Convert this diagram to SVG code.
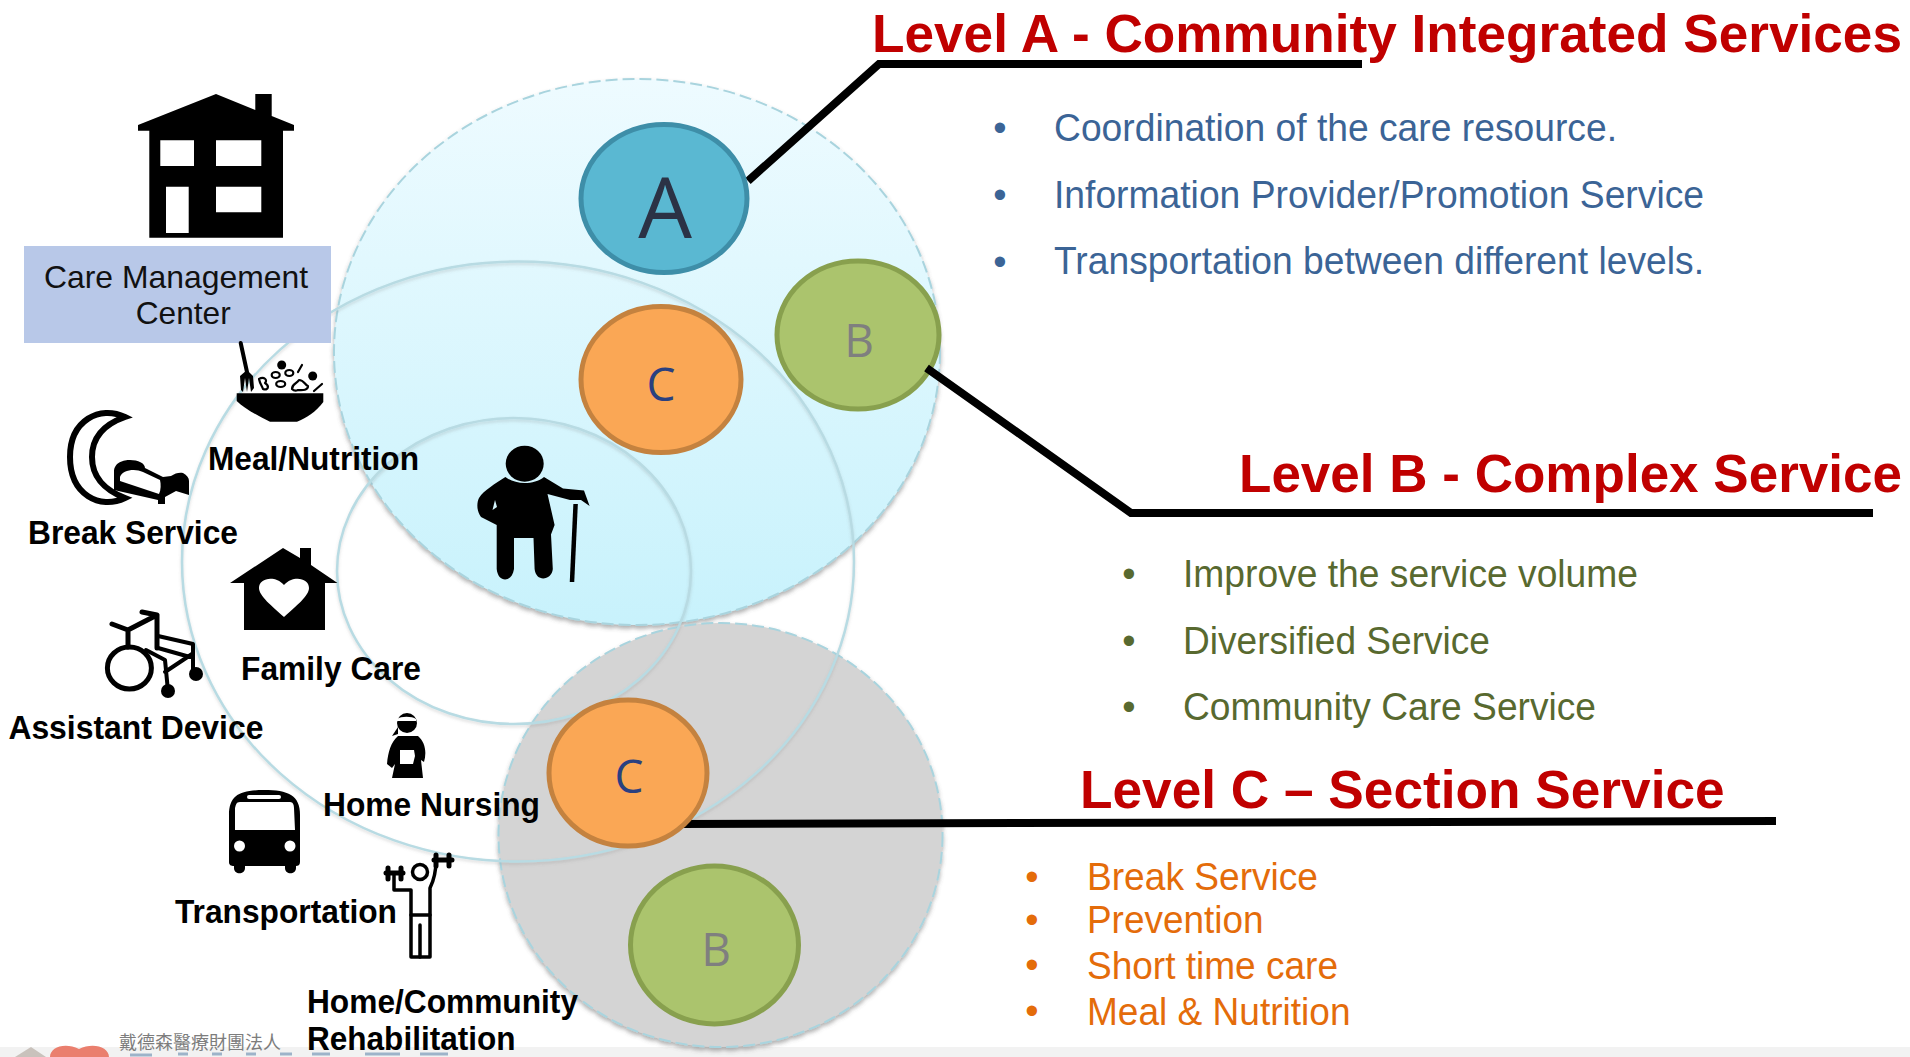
<svg xmlns="http://www.w3.org/2000/svg" width="1910" height="1057" viewBox="0 0 1910 1057">
<style>
text{font-family:"Liberation Sans",Arial,sans-serif}
.h{font-size:54px;font-weight:bold;fill:#c00000}
.la{font-size:38px;fill:#3b6496}
.lb{font-size:38px;fill:#58692f}
.lc{font-size:38px;fill:#e46c0a}
.lbl{font-size:33px;font-weight:bold;fill:#000}
.box{font-size:32px;fill:#111}
.ltr{font-family:"Open Sans","Noto Sans",sans-serif;text-anchor:middle}
.ring{fill:none;stroke:#b8dbe3;stroke-width:2.500}
.dash{stroke:#a9d4de;stroke-width:2;stroke-dasharray:12 5}
.ca{fill:#5ab8d2;stroke:#3e8ea8;stroke-width:5}
.cb{fill:#abc46d;stroke:#88a04e;stroke-width:5}
.cc{fill:#faa755;stroke:#c4823f;stroke-width:5}
.ink{stroke:#000;fill:none;stroke-linecap:round;stroke-linejoin:round}
.conn{fill:none;stroke:#000;stroke-width:8;stroke-linejoin:miter}
</style>
<defs>
<linearGradient id="skyGrad" x1="0" y1="0" x2="0" y2="1"><stop offset="0" stop-color="#eefbff"/><stop offset="1" stop-color="#c8f2fc"/></linearGradient>
<filter id="soft" x="-5%" y="-5%" width="110%" height="112%"><feDropShadow dx="0" dy="3" stdDeviation="2" flood-color="#555" flood-opacity=".45"/></filter>
<filter id="softer" x="-5%" y="-5%" width="110%" height="112%"><feDropShadow dx="0" dy="2" stdDeviation="1.500" flood-color="#777" flood-opacity=".25"/></filter>
</defs>
<rect width="1910" height="1057" fill="#fff"/>
<g id="footer">
<rect y="1047" width="1910" height="10" fill="#f2f2f2"/>
<path d="M15,1057 L31,1047 L46,1057Z" fill="#c9c2bc"/>
<path d="M50,1057 C50,1047 65,1042 79,1049 C93,1042 109,1047 109,1057Z" fill="#ea7f6e"/>
<text x="119" y="1049" font-size="18" fill="#7d7d7d" textLength="162" lengthAdjust="spacingAndGlyphs" style="font-family:'Noto Sans CJK TC','Liberation Sans',sans-serif">戴德森醫療財團法人</text>
<path d="M130,1055H152M178,1054H188M212,1054H222M246,1054H256M280,1054H292M312,1054H330M365,1054H400M420,1054H448" stroke="#9db3c9" stroke-width="3" fill="none"/>
</g>
<g id="circle-level-a"><ellipse cx="637" cy="352" rx="303" ry="273" fill="url(#skyGrad)" class="dash" filter="url(#soft)"/></g>
<g id="circle-level-c"><ellipse cx="720.500" cy="835" rx="222" ry="212" fill="#d4d4d4" class="dash" filter="url(#soft)"/></g>
<g id="ring-outer"><ellipse cx="518" cy="561.500" rx="336" ry="300" class="ring" filter="url(#softer)"/></g>
<g id="ring-inner"><ellipse cx="514" cy="571" rx="177" ry="153" class="ring" filter="url(#softer)"/></g>
<g id="node-b-upper"><ellipse cx="858" cy="335" rx="81" ry="74" class="cb"/><text x="859" y="357" font-size="46" fill="#7f7f7f" class="ltr">B</text></g>
<g id="connectors">
<path class="conn" d="M748,181 L879,64 L1362,64"/>
<path class="conn" d="M926.500,368 L1131,513 L1873,513"/>
<path class="conn" d="M680,824 L1776,821"/>
</g>
<g id="node-a"><ellipse cx="664" cy="198.500" rx="83" ry="74" class="ca"/><text x="665" y="238" font-size="85" fill="#2b3245" class="ltr">A</text></g>
<g id="node-c-upper"><ellipse cx="661" cy="379.500" rx="80" ry="73" class="cc"/><text x="661" y="401" font-size="46" fill="#2a4080" class="ltr">C</text></g>
<g id="node-c-lower"><ellipse cx="628" cy="773" rx="79" ry="73" class="cc"/><text x="629" y="793" font-size="46" fill="#2a4080" class="ltr">C</text></g>
<g id="node-b-lower"><ellipse cx="714.500" cy="945" rx="84" ry="79" class="cb"/><text x="716" y="966" font-size="46" fill="#7f7f7f" class="ltr">B</text></g>
<g id="elder">
<ellipse cx="524.700" cy="463.700" rx="19" ry="18"/>
<path d="M505.400,477 C515,485 534,485 544,477 L563,488.600 L584,490.500 L589.600,506 L581,500 L570,500 L547.500,494 L554.600,525 L551,534.600 L552.800,569 C552,580 536,583 534.600,569 L533.500,538 L514,538 L514,569 C512,583 498,583 496.700,569 L496.700,525 L481,517 C476,510 477,502 479,498 C484,490 495,484 505.400,477Z"/>
<path d="M495,500 L492.500,510 L497,507Z" fill="#d4f5fd"/>
<path d="M575.600,504 L572,582" stroke="#000" stroke-width="4.500"/>
</g>
<g id="care-center">
<path d="M138,125 L216,94 L255.300,110 L255.300,94 L271.700,94 L271.700,116 L294,125 L294,130.700 L283,130.700 L283,237.700 L149.300,237.700 L149.300,130.700 L138,130.700Z"/>
<path d="M160.300,140.300H194V166H160.300ZM216,140.300H261.300V166H216ZM166,186.700H188.700V233H166ZM216,186.700H261.300V212.300H216Z" fill="#fff"/>
<rect x="24" y="246" width="307" height="97" fill="#b8c8e8"/>
<text class="box" x="44" y="287.500" textLength="264" lengthAdjust="spacingAndGlyphs">Care Management</text>
<text class="box" x="135.700" y="324" textLength="95" lengthAdjust="spacingAndGlyphs">Center</text>
</g>
<g id="meal">
<path d="M240.700,343 L247,372" class="ink" stroke-width="4"/>
<path d="M240,376 L241,390 L243,392 L245,378 L247,392 L249,378 L251,392 L254,388 L253,376 L247,370Z"/>
<path d="M236.700,393.300 H323.300 V402 C316,412 306,418 297,421.700 H270 C256,415 244,408 236.700,401Z"/>
<circle cx="281.700" cy="365" r="4.500"/><circle cx="312.700" cy="376" r="4.500"/>
<g class="ink" stroke-width="2.200">
<ellipse cx="275.700" cy="375" rx="4" ry="3"/><ellipse cx="289.300" cy="373" rx="4" ry="3"/><ellipse cx="280.700" cy="384" rx="4.500" ry="3"/>
<path d="M259,379 C264,376 268,380 265,383 C270,386 268,391 263,389 C262,386 260,384 259,379Z"/>
<path d="M292,389 C292,383 297,384 299,380 C304,380 305,385 308,386 C308,391 301,390 298,390 C296,391 294,391 292,389Z"/>
<path d="M314,391 L322,384M298,372 L302,365"/>
</g>
<text class="lbl" x="208" y="470" textLength="211" lengthAdjust="spacingAndGlyphs">Meal/Nutrition</text>
</g>
<g id="break-service">
<path d="M125,417 C100,405 70,420 70,457 C70,495 100,510 125,498 C105,490 92,478 92,457 C92,437 105,424 125,417Z" fill="#fff" stroke="#000" stroke-width="6"/>
<path d="M114,490 V472 C114,462 124,460 130,460 C138,460 145,463 145,468 L163,477 L171,476 C175,473 180,472 183,473 C187,475 189,478 189,481 V495 L176,491 L165,497 V504 H158 V500Z"/>
<path d="M120,477 C122,470 135,468 143,472 L160,480 C161,484 161,490 159,494 L120,481Z" fill="#fff"/>
<text class="lbl" x="28" y="544" textLength="210" lengthAdjust="spacingAndGlyphs">Break Service</text>
</g>
<g id="family-care">
<path d="M283,548 L300,558 V548 H311 V565 L337.500,583 H325 V630 H244 V583 H230Z"/>
<path d="M284,617 C272,606 259,596 259,588 C259,578 275,575 284,585 C293,575 309,578 309,588 C309,596 296,606 284,617Z" fill="#fff"/>
<text class="lbl" x="241" y="680" textLength="180" lengthAdjust="spacingAndGlyphs">Family Care</text>
</g>
<g id="assistant-device">
<g class="ink" stroke-width="5">
<ellipse cx="129.400" cy="668" rx="22" ry="21"/>
<path d="M112,624 L128,630 L157,615 L142,612M128,630 V647M157,615 V648"/>
<path d="M158,636 L193,644 V672M158,648 L190,657M146,650 L165,660 L168,691M165,672 L192,654" stroke-width="4"/>
</g>
<circle cx="196" cy="674" r="7"/><circle cx="168" cy="691" r="7"/>
<text class="lbl" x="8.400" y="739" textLength="255" lengthAdjust="spacingAndGlyphs">Assistant Device</text>
</g>
<g id="home-nursing">
<ellipse cx="407" cy="723" rx="10" ry="10"/>
<path d="M397,719 C401,716 412,716 416,719 L416,721 L397,721Z" fill="#fff"/>
<path d="M398,727 L392,736 L398,734Z"/>
<path d="M398,736 H418 C425,742 427,752 424,762 L421,760 L423,778 H392 L395,764 L392,768 L387,764 C388,752 391,742 398,736Z"/>
<path d="M400,750 H414 L415,756 L413,764 H400Z" fill="#fff"/>
<text class="lbl" x="323" y="816" textLength="217" lengthAdjust="spacingAndGlyphs">Home Nursing</text>
</g>
<g id="transportation">
<path d="M229,862 V815 C229,795 240,790 264,790 C288,790 300,795 300,815 V862 C300,865 298,866 296,866 V868 C296,875 285,875 285,868 V866 H245 V868 C245,875 234,875 234,868 V866 C231,866 229,865 229,862Z"/>
<path d="M240,802 C236,802 236,805 235,808 L235,830 H295 L294,808 C294,805 293,802 290,802Z" fill="#fff"/>
<rect x="247" y="795" width="34" height="4" rx="2" fill="#fff"/>
<circle cx="239.500" cy="846" r="5.500" fill="#fff"/><circle cx="290" cy="846" r="5.500" fill="#fff"/>
<text class="lbl" x="175" y="923" textLength="222" lengthAdjust="spacingAndGlyphs">Transportation</text>
</g>
<g id="rehabilitation">
<g class="ink" stroke-width="3.500">
<circle cx="420" cy="872" r="7.500"/>
<path d="M394,873 V890 H411 V957 H430 V888 C434,880 436,870 436,860"/>
<path d="M411,915 H430M420,925 V957"/>
<path d="M386,873 H403M434,860 H452" stroke-width="5"/>
<path d="M388,868 V879M401,868 V879M436,855 V866M449,855 V866" stroke-width="5"/>
</g>
<text class="lbl" x="307" y="1013" textLength="271" lengthAdjust="spacingAndGlyphs">Home/Community</text>
<text class="lbl" x="307" y="1050" textLength="208.500" lengthAdjust="spacingAndGlyphs">Rehabilitation</text>
</g>
<g id="level-a">
<text class="h" x="872" y="52" textLength="1030" lengthAdjust="spacingAndGlyphs">Level A - Community Integrated Services</text>
<g class="la" text-anchor="middle"><text x="1000" y="141">•</text><text x="1000" y="208">•</text><text x="1000" y="275">•</text></g>
<text class="la" x="1054" y="141" textLength="563" lengthAdjust="spacingAndGlyphs">Coordination of the care resource.</text>
<text class="la" x="1054" y="208" textLength="650" lengthAdjust="spacingAndGlyphs">Information Provider/Promotion Service</text>
<text class="la" x="1054" y="274" textLength="650" lengthAdjust="spacingAndGlyphs">Transportation between different levels.</text>
</g>
<g id="level-b">
<text class="h" x="1239" y="492" textLength="663" lengthAdjust="spacingAndGlyphs">Level B - Complex Service</text>
<g class="lb" text-anchor="middle"><text x="1129" y="587">•</text><text x="1129" y="654">•</text><text x="1129" y="720">•</text></g>
<text class="lb" x="1183" y="587" textLength="455" lengthAdjust="spacingAndGlyphs">Improve the service volume</text>
<text class="lb" x="1183" y="654" textLength="307" lengthAdjust="spacingAndGlyphs">Diversified Service</text>
<text class="lb" x="1183" y="720" textLength="413" lengthAdjust="spacingAndGlyphs">Community Care Service</text>
</g>
<g id="level-c">
<text class="h" x="1080" y="808" textLength="644.600" lengthAdjust="spacingAndGlyphs">Level C – Section Service</text>
<g class="lc" text-anchor="middle"><text x="1032" y="890">•</text><text x="1032" y="933">•</text><text x="1032" y="978">•</text><text x="1032" y="1024">•</text></g>
<text class="lc" x="1087" y="890" textLength="231" lengthAdjust="spacingAndGlyphs">Break Service</text>
<text class="lc" x="1087" y="933" textLength="176.500" lengthAdjust="spacingAndGlyphs">Prevention</text>
<text class="lc" x="1087" y="978.500" textLength="251" lengthAdjust="spacingAndGlyphs">Short time care</text>
<text class="lc" x="1087" y="1025" textLength="263.500" lengthAdjust="spacingAndGlyphs">Meal &amp; Nutrition</text>
</g>
</svg>
